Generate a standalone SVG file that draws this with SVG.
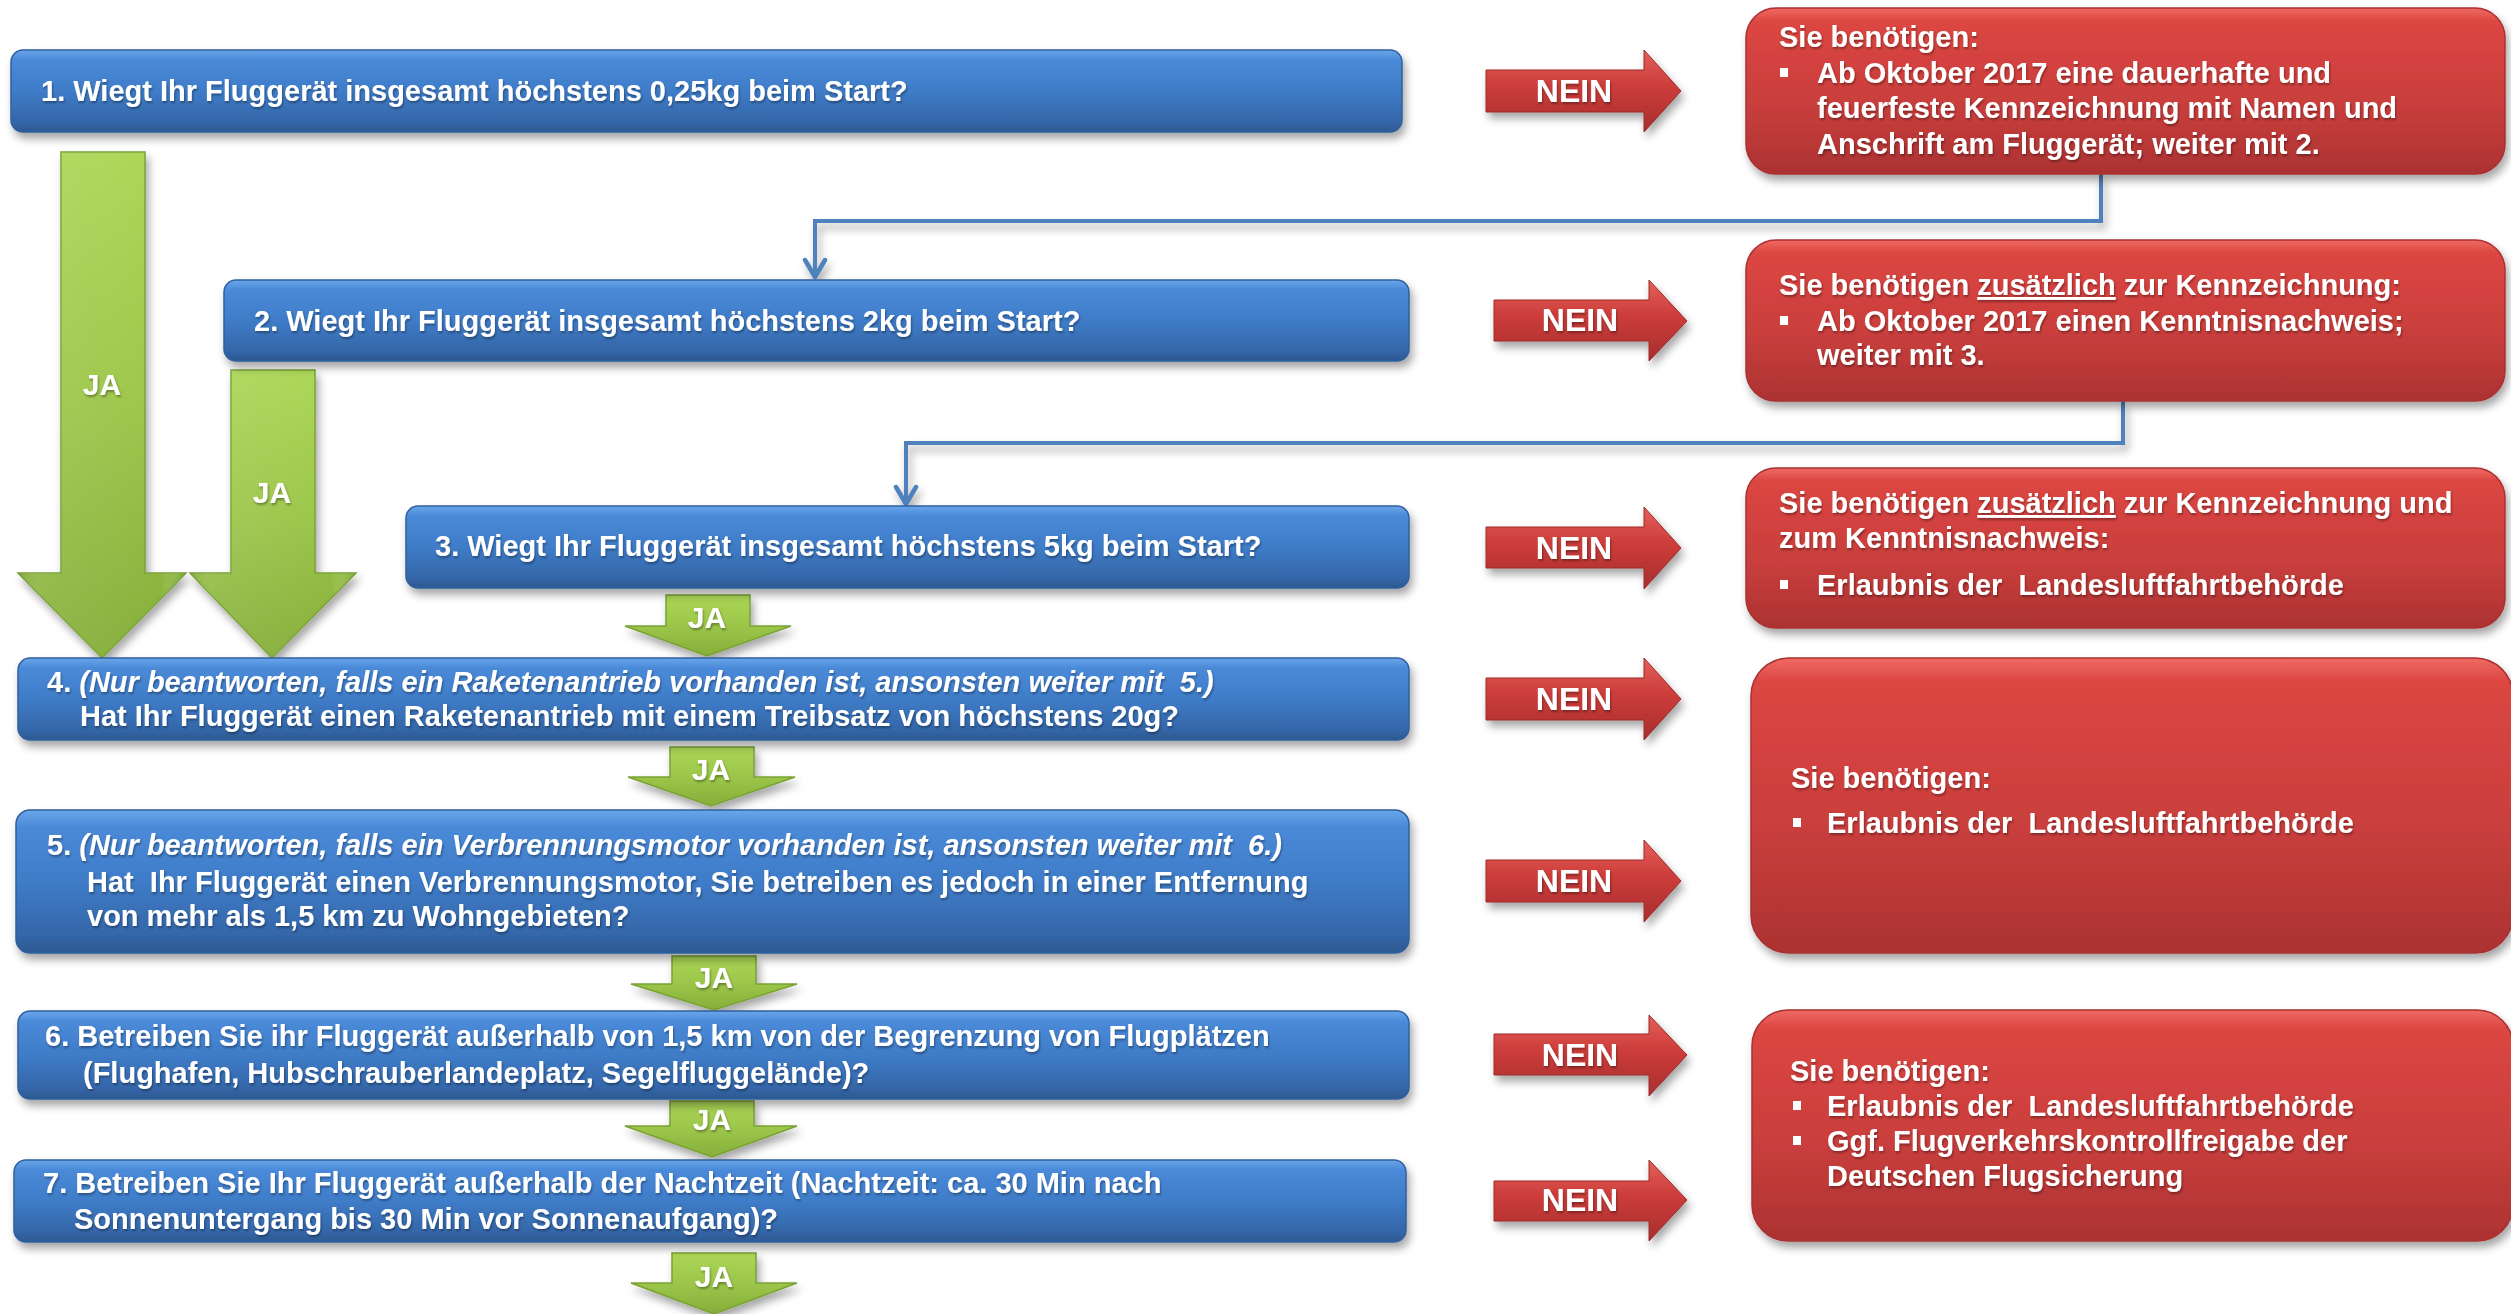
<svg xmlns="http://www.w3.org/2000/svg" width="2511" height="1314" viewBox="0 0 2511 1314">
<defs>
<linearGradient id="gBlue" x1="0" y1="0" x2="0" y2="1">
<stop offset="0" stop-color="#6aa6ea"/>
<stop offset="0.12" stop-color="#4a8ad8"/>
<stop offset="0.5" stop-color="#3f7cc8"/>
<stop offset="0.88" stop-color="#3466a8"/>
<stop offset="1" stop-color="#2c5890"/>
</linearGradient>
<linearGradient id="gRed" x1="0" y1="0" x2="0" y2="1">
<stop offset="0" stop-color="#f06a64"/>
<stop offset="0.08" stop-color="#dc4642"/>
<stop offset="0.6" stop-color="#c83e3c"/>
<stop offset="1" stop-color="#ac3232"/>
</linearGradient>
<linearGradient id="gRedArrow" x1="0" y1="0" x2="0" y2="1">
<stop offset="0" stop-color="#e4605a"/>
<stop offset="0.45" stop-color="#cc3c3a"/>
<stop offset="1" stop-color="#a82e2e"/>
</linearGradient>
<linearGradient id="gGreen" x1="0" y1="0" x2="0" y2="1">
<stop offset="0" stop-color="#acd656"/>
<stop offset="0.5" stop-color="#9cc64a"/>
<stop offset="1" stop-color="#86ae3a"/>
</linearGradient>
<linearGradient id="gEdge" x1="0" y1="0" x2="1" y2="0">
<stop offset="0" stop-color="#5e8a20" stop-opacity="0.35"/>
<stop offset="0.15" stop-color="#ffffff" stop-opacity="0.08"/>
<stop offset="0.85" stop-color="#ffffff" stop-opacity="0"/>
<stop offset="1" stop-color="#5e8a20" stop-opacity="0.4"/>
</linearGradient>
<filter id="sh" x="-5%" y="-20%" width="110%" height="150%">
<feDropShadow dx="3" dy="6" stdDeviation="4" flood-color="#000" flood-opacity="0.35"/>
</filter>
<filter id="tsh" x="-5%" y="-30%" width="110%" height="160%">
<feDropShadow dx="1" dy="2" stdDeviation="1" flood-color="#000" flood-opacity="0.35"/>
</filter>
<marker id="ah" viewBox="-2 -2 26 26" refX="19" refY="11" markerWidth="26" markerHeight="26" markerUnits="userSpaceOnUse" orient="auto">
<path d="M2,1 L19,11 L2,21" fill="none" stroke="#4f81bd" stroke-width="4.5" stroke-linecap="round" stroke-linejoin="round"/>
</marker>
<style>
.box{fill:url(#gBlue);stroke:#2f5f9e;stroke-width:1.5;filter:url(#sh)}
.rbox{fill:url(#gRed);stroke:#a83030;stroke-width:1.5;filter:url(#sh)}
.narrow{fill:url(#gRedArrow);stroke:#9c2a2a;stroke-width:1;filter:url(#sh)}
.garrow{fill:url(#gGreen);stroke:#7aa234;stroke-width:1.5;filter:url(#sh)}
.gedge{fill:url(#gEdge);stroke:none}
text{font-family:"Liberation Sans",Arial,sans-serif;font-weight:bold;fill:#fff;white-space:pre}
.t{font-size:29px;filter:url(#tsh)}
.lbl{font-size:32px;text-anchor:middle;filter:url(#tsh)}
.ja{font-size:30px;text-anchor:middle;filter:url(#tsh)}
.it{font-style:italic}
.ul{text-decoration:underline}
.bul{fill:#fff}
.conn{fill:none;stroke:#4f81bd;stroke-width:4;filter:url(#sh)}
</style>
</defs>
<rect width="2511" height="1314" fill="#fff"/>

<g id="connectors">
<path class="conn" d="M2101,174 V221 H815 V277" marker-end="url(#ah)"/>
<path class="conn" d="M2123,401 V443 H906 V504" marker-end="url(#ah)"/>
</g>

<g id="ja-arrows">
<g id="ja1"><path class="garrow" d="M61,152 H145 V573 H186 L102,658 L18,573 H61 Z"/><path class="gedge" d="M61,152 H145 V573 H186 L102,658 L18,573 H61 Z"/><text class="ja" x="102" y="395">JA</text></g>
<g id="ja2"><path class="garrow" d="M231,370 H315 V573 H356 L272,658 L190,573 H231 Z"/><path class="gedge" d="M231,370 H315 V573 H356 L272,658 L190,573 H231 Z"/><text class="ja" x="272" y="503">JA</text></g>
<g id="ja3"><path class="garrow" d="M666,595 H750 V626 H791 L707,656 L625,626 H666 Z"/><text class="ja" x="707" y="628">JA</text></g>
<g id="ja4"><path class="garrow" d="M670,747 H754 V777 H795 L711,806 L628,777 H670 Z"/><text class="ja" x="711" y="780">JA</text></g>
<g id="ja5"><path class="garrow" d="M672,956 H756 V984 H797 L714,1010 L631,984 H672 Z"/><text class="ja" x="714" y="988">JA</text></g>
<g id="ja6"><path class="garrow" d="M670,1101 H754 V1126 H797 L712,1157 L625,1126 H670 Z"/><text class="ja" x="712" y="1130">JA</text></g>
<g id="ja7"><path class="garrow" d="M672,1253 H756 V1283 H797 L714,1314 L631,1283 H672 Z"/><text class="ja" x="714" y="1287">JA</text></g>
</g>

<g id="q1"><rect class="box" x="11" y="50" width="1391" height="82" rx="12"/>
<text class="t" x="41" y="101">1. Wiegt Ihr Fluggerät insgesamt höchstens 0,25kg beim Start?</text></g>

<g id="q2"><rect class="box" x="224" y="280" width="1185" height="81" rx="12"/>
<text class="t" x="254" y="331">2. Wiegt Ihr Fluggerät insgesamt höchstens 2kg beim Start?</text></g>

<g id="q3"><rect class="box" x="406" y="506" width="1003" height="82" rx="12"/>
<text class="t" x="435" y="556">3. Wiegt Ihr Fluggerät insgesamt höchstens 5kg beim Start?</text></g>

<g id="q4"><rect class="box" x="18" y="658" width="1391" height="82" rx="12"/>
<text class="t" x="47" y="692">4. <tspan class="it">(Nur beantworten, falls ein Raketenantrieb vorhanden ist, ansonsten weiter mit  5.)</tspan></text>
<text class="t" x="80" y="726">Hat Ihr Fluggerät einen Raketenantrieb mit einem Treibsatz von höchstens 20g?</text></g>

<g id="q5"><rect class="box" x="16" y="810" width="1393" height="143" rx="14"/>
<text class="t" x="47" y="855">5. <tspan class="it">(Nur beantworten, falls ein Verbrennungsmotor vorhanden ist, ansonsten weiter mit  6.)</tspan></text>
<text class="t" x="87" y="892">Hat  Ihr Fluggerät einen Verbrennungsmotor, Sie betreiben es jedoch in einer Entfernung</text>
<text class="t" x="87" y="926">von mehr als 1,5 km zu Wohngebieten?</text></g>

<g id="q6"><rect class="box" x="18" y="1011" width="1391" height="88" rx="12"/>
<text class="t" x="45" y="1046">6. Betreiben Sie ihr Fluggerät außerhalb von 1,5 km von der Begrenzung von Flugplätzen</text>
<text class="t" x="83" y="1083">(Flughafen, Hubschrauberlandeplatz, Segelfluggelände)?</text></g>

<g id="q7"><rect class="box" x="14" y="1160" width="1392" height="82" rx="12"/>
<text class="t" x="43" y="1193">7. Betreiben Sie Ihr Fluggerät außerhalb der Nachtzeit (Nachtzeit: ca. 30 Min nach</text>
<text class="t" x="74" y="1229">Sonnenuntergang bis 30 Min vor Sonnenaufgang)?</text></g>

<g id="nein1"><path class="narrow" d="M1486,70 H1644 V50 L1681,91 L1644,132 V112 H1486 Z"/><text class="lbl" x="1574" y="102">NEIN</text></g>
<g id="nein2"><path class="narrow" d="M1494,300 H1649 V280 L1687,321 L1649,361 V341 H1494 Z"/><text class="lbl" x="1580" y="331">NEIN</text></g>
<g id="nein3"><path class="narrow" d="M1486,527 H1644 V507 L1681,548 L1644,589 V568 H1486 Z"/><text class="lbl" x="1574" y="559">NEIN</text></g>
<g id="nein4"><path class="narrow" d="M1486,678 H1644 V658 L1681,699 L1644,740 V720 H1486 Z"/><text class="lbl" x="1574" y="710">NEIN</text></g>
<g id="nein5"><path class="narrow" d="M1486,860 H1644 V840 L1681,881 L1644,922 V902 H1486 Z"/><text class="lbl" x="1574" y="892">NEIN</text></g>
<g id="nein6"><path class="narrow" d="M1494,1034 H1649 V1015 L1687,1055 L1649,1096 V1075 H1494 Z"/><text class="lbl" x="1580" y="1066">NEIN</text></g>
<g id="nein7"><path class="narrow" d="M1494,1181 H1649 V1160 L1687,1200 L1649,1241 V1221 H1494 Z"/><text class="lbl" x="1580" y="1211">NEIN</text></g>

<g id="r1"><rect class="rbox" x="1746" y="8" width="759" height="166" rx="30"/>
<text class="t" x="1779" y="47">Sie benötigen:</text>
<rect class="bul" x="1780" y="68" width="8" height="9"/>
<text class="t" x="1817" y="83">Ab Oktober 2017 eine dauerhafte und</text>
<text class="t" x="1817" y="118">feuerfeste Kennzeichnung mit Namen und</text>
<text class="t" x="1817" y="154">Anschrift am Fluggerät; weiter mit 2.</text></g>

<g id="r2"><rect class="rbox" x="1746" y="240" width="759" height="161" rx="30"/>
<text class="t" x="1779" y="295">Sie benötigen <tspan class="ul">zusätzlich</tspan> zur Kennzeichnung:</text>
<rect class="bul" x="1780" y="316" width="8" height="9"/>
<text class="t" x="1817" y="331">Ab Oktober 2017 einen Kenntnisnachweis;</text>
<text class="t" x="1817" y="365">weiter mit 3.</text></g>

<g id="r3"><rect class="rbox" x="1746" y="468" width="759" height="160" rx="30"/>
<text class="t" x="1779" y="513">Sie benötigen <tspan class="ul">zusätzlich</tspan> zur Kennzeichnung und</text>
<text class="t" x="1779" y="548">zum Kenntnisnachweis:</text>
<rect class="bul" x="1780" y="580" width="8" height="9"/>
<text class="t" x="1817" y="595">Erlaubnis der  Landesluftfahrtbehörde</text></g>

<g id="r4"><rect class="rbox" x="1751" y="658" width="762" height="295" rx="38"/>
<text class="t" x="1791" y="788">Sie benötigen:</text>
<rect class="bul" x="1793" y="818" width="8" height="9"/>
<text class="t" x="1827" y="833">Erlaubnis der  Landesluftfahrtbehörde</text></g>

<g id="r5"><rect class="rbox" x="1752" y="1010" width="761" height="231" rx="36"/>
<text class="t" x="1790" y="1081">Sie benötigen:</text>
<rect class="bul" x="1793" y="1101" width="8" height="9"/>
<text class="t" x="1827" y="1116">Erlaubnis der  Landesluftfahrtbehörde</text>
<rect class="bul" x="1793" y="1136" width="8" height="9"/>
<text class="t" x="1827" y="1151">Ggf. Flugverkehrskontrollfreigabe der</text>
<text class="t" x="1827" y="1186">Deutschen Flugsicherung</text></g>
</svg>
